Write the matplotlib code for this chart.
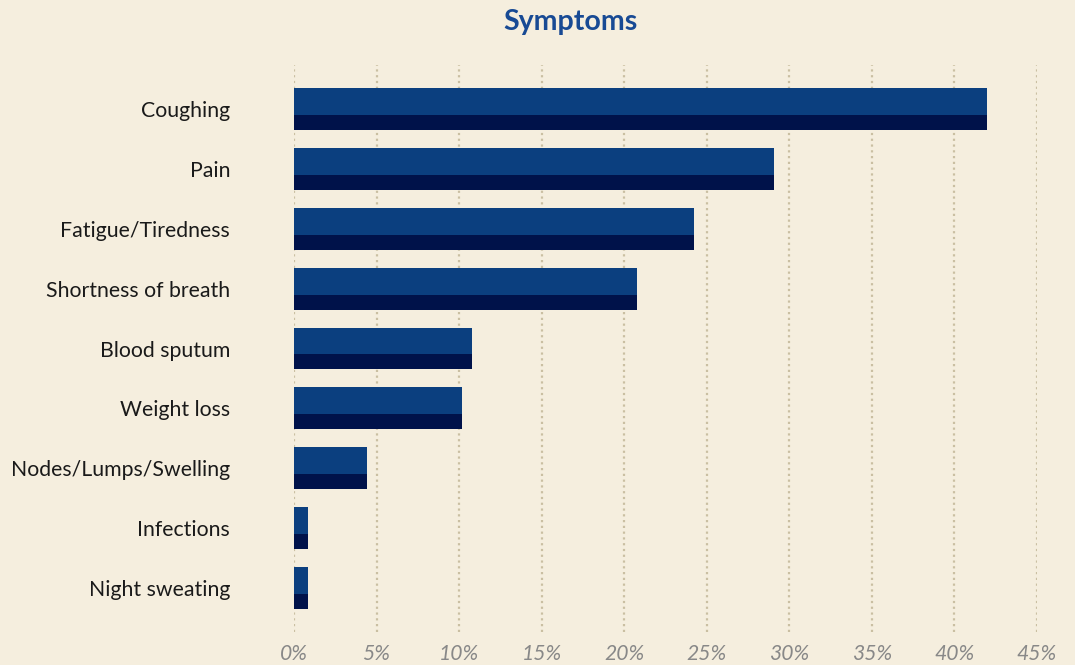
import numpy as np
import matplotlib.pyplot as plt

# Share of patients reporting each symptom (%)
symptoms = ["Coughing", "Pain", "Fatigue/Tiredness", "Shortness of breath",
            "Blood sputum", "Weight loss", "Nodes/Lumps/Swelling",
            "Infections", "Night sweating"]
shares = [42.0, 29.1, 24.2, 20.8, 10.8, 10.2, 4.4, 0.85, 0.85]
xticks = [0, 5, 10, 15, 20, 25, 30, 35, 40, 45]

bg = "#f5eede"
light = "#0b3f7f"
dark = "#00124a"

plt.rcParams["font.family"] = ["Lato", "DejaVu Sans"]

fig = plt.figure(figsize=(10.75, 6.65), dpi=100, facecolor=bg)
ax = fig.add_axes([294 / 1075, 1 - 632 / 665, (1037 - 294) / 1075, 567 / 665])
ax.set_facecolor(bg)

y = np.arange(len(symptoms))
h = 0.70
# full bar in the dark shade, lighter top band over it
ax.barh(y, shares, height=h, color=dark, zorder=2)
ax.barh(y - h / 2 + 0.225, shares, height=0.45, color=light, zorder=3)

ax.set_xlim(0, 45)
ax.set_ylim(len(symptoms) - 1 + 0.73, -0.73)
ax.set_xticks(xticks)
ax.set_xticklabels([f"{v}%" for v in xticks], fontstyle="italic",
                   fontsize=15.2, color="#888888")
ax.set_yticks(y)
ax.set_yticklabels(symptoms, fontsize=15.3, color="#1a1a1a")
ax.tick_params(axis="both", length=0)
ax.tick_params(axis="x", pad=9)
ax.tick_params(axis="y", pad=46)

ax.grid(axis="x", color="#a89a72", alpha=0.55, linestyle=(0, (1, 1.6)),
        linewidth=1.6, zorder=4)
ax.grid(axis="y", visible=False)
for s in ax.spines.values():
    s.set_visible(False)

fig.text(570 / 1075, 1 - 22 / 665, "Symptoms", ha="center", va="center",
         fontsize=20.5, fontweight="bold", color="#184a94")

fig.savefig("out.png", facecolor=bg)
